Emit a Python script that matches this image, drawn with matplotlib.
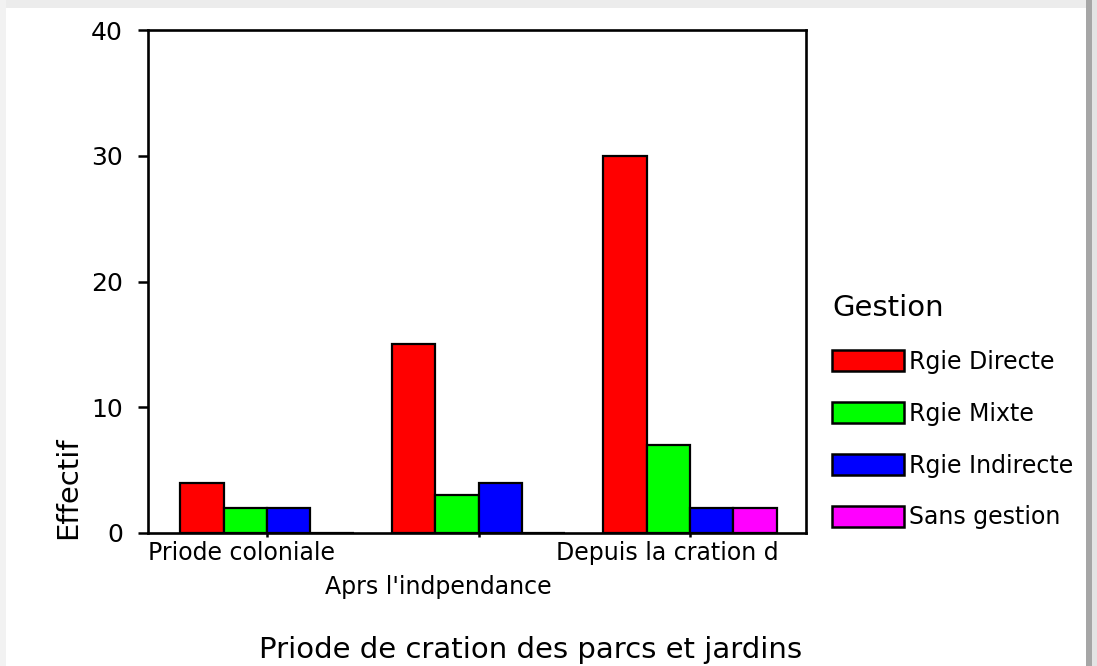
import numpy as np
import matplotlib
matplotlib.use("Agg")
import matplotlib.pyplot as plt
from matplotlib.patches import Patch, Rectangle
import matplotlib.transforms as mtransforms

plt.rcParams['font.family'] = ['DejaVu Sans']

# data
periodes = ["Priode coloniale", "Aprs l'indpendance", "Depuis la cration d"]
gestions = ["Rgie Directe", "Rgie Mixte", "Rgie Indirecte", "Sans gestion"]
regie_directe = [4, 15, 30]
regie_mixte = [2, 3, 7]
regie_indirecte = [2, 4, 2]
sans_gestion = [0, 0, 2]
couleurs = ["#ff0000", "#00ff00", "#0000ff", "#ff00ff"]

series = [regie_directe, regie_mixte, regie_indirecte, sans_gestion]

W, H = 1097, 666
fig = plt.figure(figsize=(W / 100, H / 100), dpi=100)
fig.patch.set_facecolor("white")
ax = fig.add_axes([148 / W, 1 - 533 / H, 658 / W, 503 / H])

x = np.arange(len(periodes))
w = 0.205
for i, (vals, c) in enumerate(zip(series, couleurs)):
    ax.bar(x + (i - 1.5) * w, vals, width=w, color=c, edgecolor="black",
           linewidth=1.6, zorder=2)

ax.set_xlim(-0.563, 2.548)
ax.set_ylim(0, 40)
ax.set_yticks([0, 10, 20, 30, 40])
ax.tick_params(axis="y", labelsize=18, length=7, width=1.8, pad=11)
ax.set_xticks(x)
ax.set_xticklabels(["", "", ""])
ax.tick_params(axis="x", length=3, width=1.8)
for s in ax.spines.values():
    s.set_linewidth(1.9)

# staggered category labels
trans = mtransforms.blended_transform_factory(ax.transData, ax.transAxes)
ax.text(x[0] - 0.12, -0.040, periodes[0], transform=trans, ha="center", va="center", fontsize=17)
ax.text(x[1] - 0.19, -0.107, periodes[1], transform=trans, ha="center", va="center", fontsize=17)
ax.text(x[2] - 0.11, -0.040, periodes[2], transform=trans, ha="center", va="center", fontsize=17)

ax.set_ylabel("Effectif", fontsize=21)
ax.yaxis.set_label_coords(-0.1, 0.09)

fig.text(531 / W, 1 - 650 / H, "Priode de cration des parcs et jardins",
         ha="center", va="center", fontsize=21)

handles = [Patch(facecolor=c, edgecolor="black", linewidth=1.8) for c in couleurs]
leg = fig.legend(handles, gestions, loc="upper left", bbox_to_anchor=(832 / W, 1 - 294 / H),
                 frameon=False, fontsize=17, title="Gestion", title_fontsize=21,
                 handlelength=3.05, handleheight=0.97, handletextpad=0.2,
                 labelspacing=1.18, borderpad=0, borderaxespad=0, alignment="left")

# frame shadow around the picture
fig.add_artist(Rectangle((0, 1 - 8 / H), 1, 8 / H, transform=fig.transFigure,
                         facecolor="#ececec", edgecolor="none", zorder=20))
fig.add_artist(Rectangle((0, 0), 6 / W, 1, transform=fig.transFigure,
                         facecolor="#f2f2f2", edgecolor="none", zorder=20))
fig.add_artist(Rectangle((1086 / W, 0), 6 / W, 1, transform=fig.transFigure,
                         facecolor="#a6a6a6", edgecolor="none", zorder=20))
fig.add_artist(Rectangle((1092 / W, 0), 5 / W, 1, transform=fig.transFigure,
                         facecolor="#e4e4e4", edgecolor="none", zorder=20))

fig.savefig("out.png", dpi=100)
